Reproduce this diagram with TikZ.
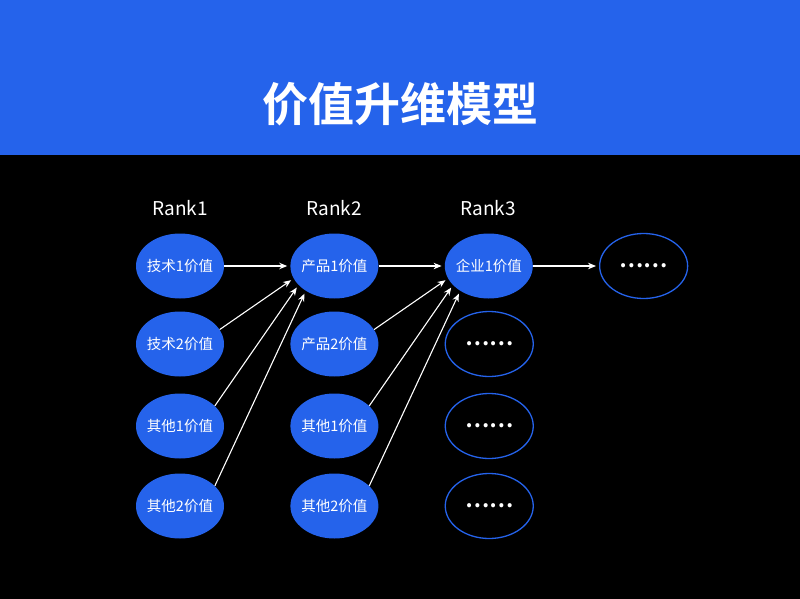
\documentclass[tikz,border=0pt]{standalone}
\usepackage{fontspec}
\setmainfont{Noto Sans CJK SC}[BoldFont={Noto Sans CJK SC Bold}]
\usetikzlibrary{shapes.geometric,arrows.meta,positioning}
\definecolor{modelblue}{RGB}{37,99,235}

\begin{document}
\begin{tikzpicture}[x=1pt, y=-1pt, font=\fontsize{14.5}{16}\selectfont, val/.style={ellipse, fill=modelblue, text=white, minimum width=88pt, minimum height=65pt, inner xsep=-3pt, inner ysep=0pt}, more/.style={ellipse, draw=modelblue, line width=1.3pt, text=white, font=\fontsize{22}{24}\selectfont\bfseries, minimum width=88pt, minimum height=65pt, inner sep=0pt}, rank/.style={text=white, font=\fontsize{19}{22}\selectfont}, arr/.style={-{Stealth[length=8pt,width=6.5pt]}, white, line width=1.1pt, shorten >=3pt}]
\fill[black] (0,0) rectangle (800,599);
\useasboundingbox (0,0) rectangle (800,599);
\fill[modelblue] (0,0) rectangle (800,155);
\node[text=white, font=\fontsize{46}{50}\selectfont\bfseries] (title) at (400,104) {价值升维模型};
% column 1
\node[val] (t1) at (180,266) {技术1价值};
\node[val] (t2) at (180,344) {技术2价值};
\node[val] (o1) at (180,426) {其他1价值};
\node[val] (o2) at (180,506) {其他2价值};
% column 2
\node[val, right=66pt of t1] (p1) {产品1价值};
\node[val, right=66pt of t2] (p2) {产品2价值};
\node[val, right=66pt of o1] (q1) {其他1价值};
\node[val, right=66pt of o2] (q2) {其他2价值};
% column 3
\node[val, right=66pt of p1] (e1) {企业1价值};
\node[more, right=66pt of p2] (m2) {……};
\node[more, right=66pt of q1] (m3) {……};
\node[more, right=66pt of q2] (m4) {……};
\node[more, right=66pt of e1] (m1) {……};
\node[rank] (r1) at (180,208) {Rank1};
\node[rank] (r2) at (334,208) {Rank2};
\node[rank] (r3) at (488,208) {Rank3};
\draw[arr] (t1) -- (p1);
\draw[arr] (p1) -- (e1);
\draw[arr] (e1) -- (m1);
\draw[arr] (t2.20) -- (p1.197);
\draw[arr] (o1.30) -- (p1.208);
\draw[arr] (o2.30) -- (p1.221);
\draw[arr] (p2.20) -- (e1.197);
\draw[arr] (q1.30) -- (e1.208);
\draw[arr] (q2.30) -- (e1.221);
\end{tikzpicture}
\end{document}
